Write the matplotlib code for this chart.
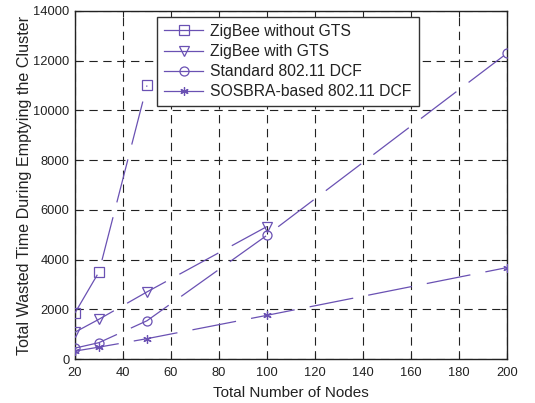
import matplotlib
matplotlib.use("Agg")
import matplotlib.pyplot as plt

plt.rcParams['font.family'] = ['Liberation Sans', 'DejaVu Sans']
plt.rcParams['lines.scale_dashes'] = False

# Node counts and wasted time per scheme
nodes_zb_no_gts = [20, 30, 50]
zb_no_gts = [1850, 3500, 11000]

nodes_zb_gts = [20, 30, 50, 100]
zb_gts = [1080, 1600, 2700, 5330]

nodes_dcf = [20, 30, 50, 100, 200]
std_dcf = [440, 660, 1540, 4980, 12300]

nodes_sosbra = [20, 30, 50, 100, 200]
sosbra_dcf = [320, 480, 820, 1760, 3680]

labels = ["ZigBee without GTS", "ZigBee with GTS",
          "Standard 802.11 DCF", "SOSBRA-based 802.11 DCF"]

x_ticks = [20, 40, 60, 80, 100, 120, 140, 160, 180, 200]
y_ticks = [0, 2000, 4000, 6000, 8000, 10000, 12000, 14000]

color = '#6a51b3'
dash = (0, (32, 11))

fig = plt.figure(figsize=(5.35, 4.03), dpi=100)
ax = fig.add_axes([0.140, 0.109, 0.808, 0.864])

series = [
    (nodes_zb_no_gts, zb_no_gts, 's', 6.5),
    (nodes_zb_gts, zb_gts, 'v', 7),
    (nodes_dcf, std_dcf, 'o', 6.5),
    (nodes_sosbra, sosbra_dcf, (6, 2, 0), 6),
]

handles = []
for (x, y, m, ms), lab in zip(series, labels):
    ax.plot(x, y, color=color, linestyle=dash, linewidth=0.9,
            marker=m, markersize=ms, markerfacecolor='none',
            markeredgecolor=color, markeredgewidth=0.9, zorder=3)
    h, = ax.plot([], [], color=color, linestyle='-', linewidth=0.9,
                 marker=m, markersize=ms, markerfacecolor='none',
                 markeredgecolor=color, markeredgewidth=0.9, label=lab)
    handles.append(h)

ax.set_xlim(20, 200)
ax.set_ylim(0, 14000)
ax.set_xticks(x_ticks)
ax.set_yticks(y_ticks)
ax.tick_params(axis='both', which='both', direction='in', labelsize=9.3,
               top=True, right=True, length=4, width=0.8, colors='#222222',
               labelcolor='#222222')
ax.tick_params(axis='x', pad=6)
ax.tick_params(axis='y', pad=4)

ax.grid(True, color='#222222', linestyle=(0, (6, 4)), linewidth=0.8)
ax.set_axisbelow(True)
for s in ax.spines.values():
    s.set_color('#222222')
    s.set_linewidth(1.0)

ax.set_xlabel("Total Number of Nodes", fontsize=11, color='#222222', labelpad=5)
ax.set_ylabel("Total Wasted Time During Emptying the Cluster", fontsize=11.6,
              color='#222222', labelpad=1)

leg = ax.legend(handles=handles, loc='upper left', bbox_to_anchor=(0.19, 0.983),
                borderaxespad=0, fontsize=11.3, handlelength=2.5, handletextpad=0.45,
                labelspacing=0.33, borderpad=0.45, fancybox=False, framealpha=1,
                edgecolor='#333333')
leg.get_frame().set_linewidth(1.0)
for t in leg.get_texts():
    t.set_color('#222222')

fig.savefig("out.png", dpi=100)
